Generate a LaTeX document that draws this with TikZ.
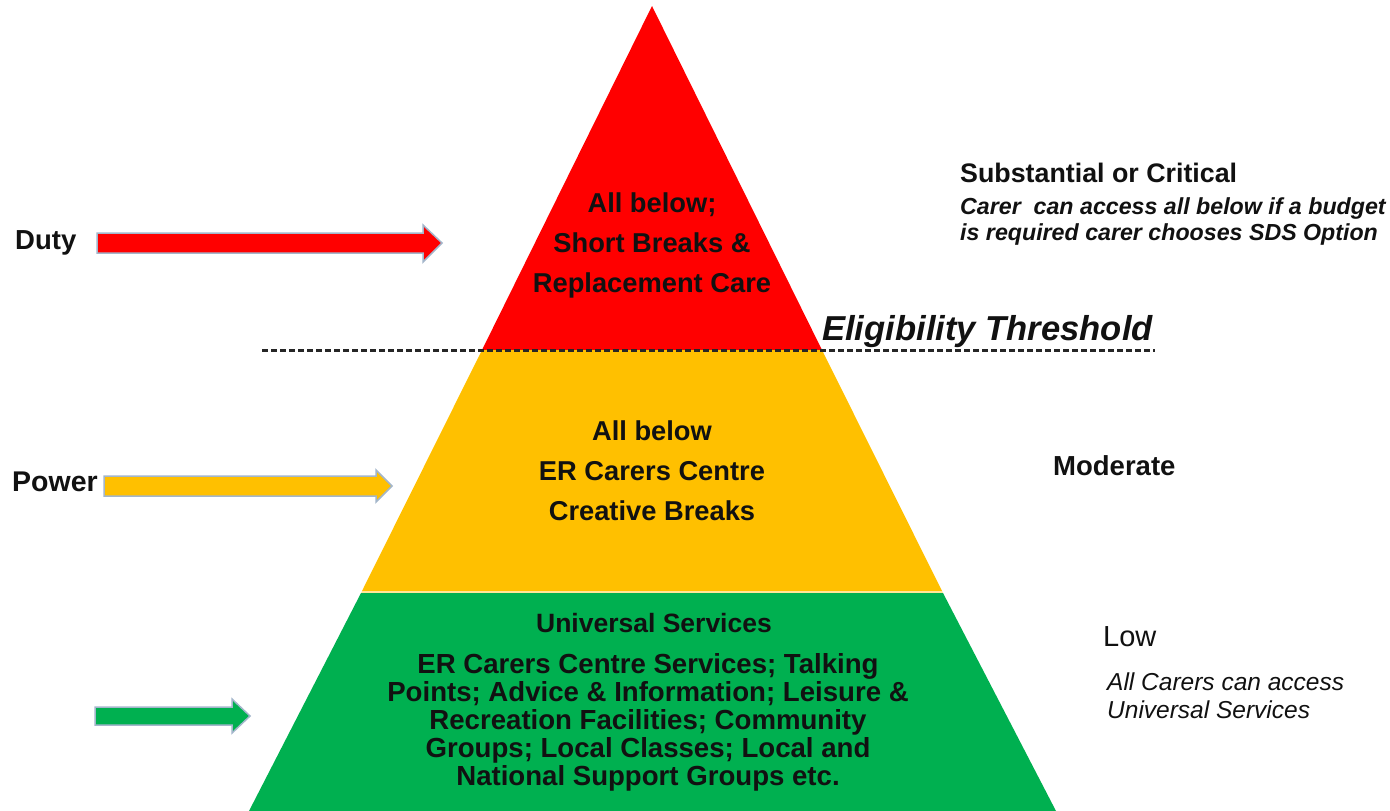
\documentclass[tikz,border=0pt]{standalone}
\usepackage{fontspec}
\setmainfont{Liberation Sans}
\definecolor{pyred}{HTML}{FF0000}
\definecolor{pyyellow}{HTML}{FFC000}
\definecolor{pygreen}{HTML}{00B050}
\definecolor{pygap}{HTML}{FFE699}
\definecolor{arrowedge}{HTML}{A3B6CB}
\definecolor{txt}{HTML}{111111}
\begin{document}
\begin{tikzpicture}[x=1pt,y=-1pt,
  tier/.style={inner sep=0pt, align=center, anchor=base, text=txt},
  redtxt/.style={tier, font=\bfseries\fontsize{27.3}{40}\selectfont},
  greentxt/.style={tier, font=\bfseries\fontsize{27.6}{28}\selectfont},
  lab/.style={inner sep=0pt, anchor=base west, text=txt},
  side/.style={inner sep=0pt, anchor=base west, align=left, text=txt},
  blockarrow/.style={draw=arrowedge, line width=1.5pt, line join=miter},
  threshold/.style={draw=black!85, line width=3pt, dash pattern=on 6pt off 3pt}
]
\useasboundingbox (0,0) rectangle (1390,811);
\fill[white] (0,0) rectangle (1390,811);

% pyramid tiers
\fill[pyred] (652,6) -- (822,350) -- (482,350) -- cycle;
\fill[pyyellow] (482,350) -- (822,350) -- (942,591) -- (362,591) -- cycle;
\fill[pygap] (362,591) -- (942,591) -- (943,593) -- (361,593) -- cycle;
\fill[pygreen] (361,593) -- (943,593) -- (1056,811) -- (249,811) -- cycle;

% eligibility threshold line
\coordinate (thrL) at (262,350);
\coordinate (thrR) at (1155,350);
\draw[threshold] (thrL) -- (thrR);

% tier texts (anchor base = baseline of the last line)
\node[redtxt] (redtext) at (652,292) {All below;\\Short Breaks \&\\Replacement Care};
\node[redtxt] (yellowtext) at (652,520) {All below\\ER Carers Centre\\Creative Breaks};
\node[tier, font=\bfseries\fontsize{26.5}{30}\selectfont] (greenhead) at (654,632) {Universal Services};
\node[greentxt] (greentext) at (648,785) {ER Carers Centre Services; Talking\\Points; Advice \& Information; Leisure \&\\Recreation Facilities; Community\\Groups; Local Classes; Local and\\National Support Groups etc.};

% arrows
\fill[pyred, blockarrow] (97,233) -- (423,233) -- (423,225) -- (442,243) -- (423,262) -- (423,253) -- (97,253) -- cycle;
\fill[pyyellow, blockarrow] (104,476) -- (376,476) -- (376,470) -- (392,486) -- (376,502) -- (376,496) -- (104,496) -- cycle;
\fill[pygreen, blockarrow] (95,707) -- (232,707) -- (232,699) -- (250,716) -- (232,733) -- (232,725) -- (95,725) -- cycle;

% left labels
\node[lab, font=\bfseries\fontsize{27.5}{27}\selectfont] (duty) at (15,249) {Duty};
\node[lab, font=\bfseries\fontsize{28.5}{27}\selectfont] (power) at (12,491) {Power};

% right labels
\node[lab, font=\bfseries\fontsize{26.8}{27}\selectfont] (subst) at (960,182) {Substantial or Critical};
\node[side, font=\bfseries\itshape\fontsize{23.2}{26}\selectfont] (substnote) at (960,240) {Carer\ \ can access\ all below if a budget\\is required carer chooses SDS Option};
\node[lab, font=\bfseries\itshape\fontsize{34.6}{34}\selectfont] (elig) at (822,340) {Eligibility Threshold};
\node[lab, font=\bfseries\fontsize{27.5}{27}\selectfont] (moderate) at (1053,475) {Moderate};
\node[lab, font=\fontsize{29}{29}\selectfont] (low) at (1103,646) {Low};
\node[side, font=\itshape\fontsize{24.5}{28}\selectfont] (lownote) at (1107,718) {All Carers can access\\Universal Services};
\end{tikzpicture}
\end{document}
